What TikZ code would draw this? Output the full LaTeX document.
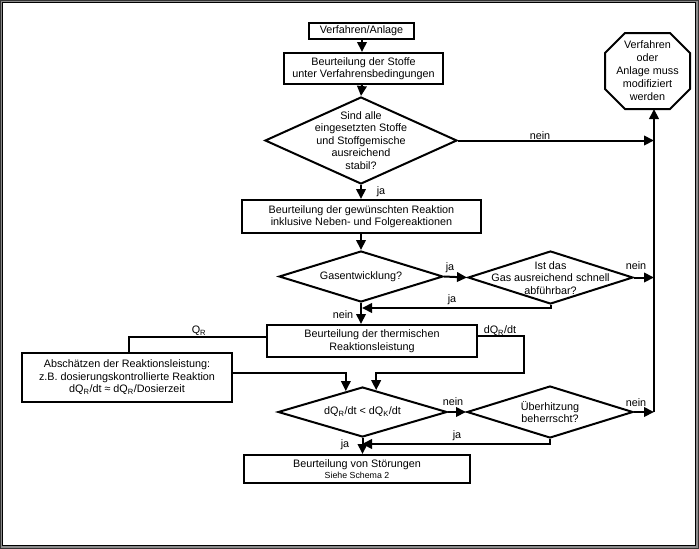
\documentclass[tikz,border=0pt]{standalone}
\usepackage{fontspec}
\setmainfont{Liberation Sans}
\usetikzlibrary{arrows.meta,shapes.geometric,calc}
\tikzset{
  conn/.style={line width=2pt},
  arr/.style={conn,-{Triangle[length=10pt,width=9.5pt]}},
  box/.style={draw,line width=2pt,inner sep=0pt,align=center,font=\fontsize{10.8}{12.5}\selectfont},
  dia/.style={draw,shape=diamond,line width=2pt,inner sep=0pt},
  txt/.style={inner sep=0pt,align=center,font=\fontsize{10.8}{12.5}\selectfont},
  lbl/.style={inner sep=0pt,font=\fontsize{10.8}{12.5}\selectfont},
}
\newcommand{\sbs}[1]{\textsubscript{#1}}
\begin{document}
\begin{tikzpicture}[x=1pt,y=-1pt]
\useasboundingbox (0,0) rectangle (699,549);
% frame
\fill[black!45] (0,0) rectangle (699,549);
\draw[black!80,line width=1pt] (0.5,0.5) rectangle (698.5,548.5);
\fill[white] (2.5,2.5) rectangle (695.5,545.5);
\draw[black,line width=1.2pt] (2.6,2.6) rectangle (695.4,545.4);

% boxes
\node[box,minimum width=105pt,minimum height=16pt] (n1) at (361.5,31) {Verfahren/Anlage};
\node[box,minimum width=159pt,minimum height=31pt] (n2) at (363.5,68.5) {Beurteilung der Stoffe\\unter Verfahrensbedingungen};
\node[dia,minimum width=192pt,minimum height=87pt] (d1) at (361,140.5) {};
\node[txt] (t1) at (d1) {Sind alle\\eingesetzten Stoffe\\und Stoffgemische\\ausreichend\\stabil?};
\node[box,minimum width=239pt,minimum height=33pt] (n3) at (361.5,216.5) {Beurteilung der gewünschten Reaktion\\inklusive Neben- und Folgereaktionen};
\node[dia,minimum width=164pt,minimum height=51pt] (d2) at (361,276.5) {};
\node[txt] (t2) at (d2) {Gasentwicklung?};
\node[dia,minimum width=165pt,minimum height=53pt] (d3) at (550.5,277.5) {};
\node[txt] (t3) at (550.5,278) {Ist das\\Gas ausreichend schnell\\abführbar?};
\node[box,minimum width=210pt,minimum height=32pt] (n4) at (372,341) {Beurteilung der thermischen\\Reaktionsleistung};
\node[box,minimum width=210pt,minimum height=49pt] (n5) at (127,377.5) {Abschätzen der Reaktionsleistung:\\z.B. dosierungskontrollierte Reaktion\\dQ\sbs{R}/dt ≈ dQ\sbs{R}/Dosierzeit};
\node[dia,minimum width=169pt,minimum height=50pt] (d4) at (362.5,412) {};
\node[txt] (t4) at (d4) {dQ\sbs{R}/dt < dQ\sbs{K}/dt};
\node[dia,minimum width=166pt,minimum height=52pt] (d5) at (550,412) {};
\node[txt] (t5) at (d5) {Überhitzung\\beherrscht?};
\node[box,minimum width=226pt,minimum height=28pt] (n6) at (357,469) {Beurteilung von Störungen\\[-2pt]{\fontsize{8.8}{9.5}\selectfont Siehe Schema 2}};

% octagon
\node[txt,font=\fontsize{10.8}{13}\selectfont] (oct) at (647.5,71) {Verfahren\\oder\\Anlage muss\\modifiziert\\werden};
\draw[line width=2pt] ($(oct)+(-22.5,-38)$) -- ($(oct)+(22.5,-38)$) -- ($(oct)+(42.5,-18)$) -- ($(oct)+(42.5,18)$) -- ($(oct)+(22.5,38)$) -- ($(oct)+(-22.5,38)$) -- ($(oct)+(-42.5,18)$) -- ($(oct)+(-42.5,-18)$) -- cycle;
\coordinate (octb) at (654,109);

% helper coordinates
\coordinate (m1) at (362,308);
\coordinate (m2) at (362,444);
\coordinate (d4l) at ($(d4.north)!0.195!(d4.west)$);
\coordinate (d4r) at ($(d4.north)!0.16!(d4.east)$);

% connectors
\draw[arr] (n1.south -| 362,0) -- (n2.north -| 362,0);
\draw[arr] (n2.south -| 362,0) -- (d1.north);
\draw[arr] (d1.south) -- (n3.north -| d1.south);
\draw[arr] (d1.east) -- (d1.east -| octb);
\draw[arr] (n3.south -| d2.north) -- (d2.north);
\draw[arr] (d2.east) -- (d3.west);
\draw[arr] (d3.east) -- (d3.east -| octb);
\draw[arr] (d3.south) |- (m1);
\draw[arr] (d2.south) -- (n4.north -| d2.south);
\draw[conn] (n4.west) ++(0,-4) -| ($(n5.north)+(2,0)$);
\draw[arr] (n4.east) ++(0,-5) -| (524,373) -| (d4r);
\draw[arr] (n5.east) ++(0,-4.5) -| (d4l);
\draw[arr] (d4.east) -- (d5.west);
\draw[arr] (d5.east) -- (d5.east -| octb);
\draw[arr] (d5.south) |- (m2);
\draw[arr] (d4.south) -- (n6.north -| d4.south);
\draw[arr] (d5.east -| octb) -- (octb);

% labels
\node[lbl] (l1) at (540,136) {nein};
\node[lbl] (l2) at (381,192) {ja};
\node[lbl] (l3) at (450,268) {ja};
\node[lbl] (l4) at (636,266) {nein};
\node[lbl] (l5) at (452,300) {ja};
\node[lbl] (l6) at (343,315) {nein};
\node[lbl] (l7) at (199,331) {Q\sbs{R}};
\node[lbl] (l8) at (500,331) {dQ\sbs{R}/dt};
\node[lbl] (l9) at (453,402) {nein};
\node[lbl] (l10) at (636,403) {nein};
\node[lbl] (l11) at (457,436) {ja};
\node[lbl] (l12) at (345,445) {ja};
\end{tikzpicture}
\end{document}
